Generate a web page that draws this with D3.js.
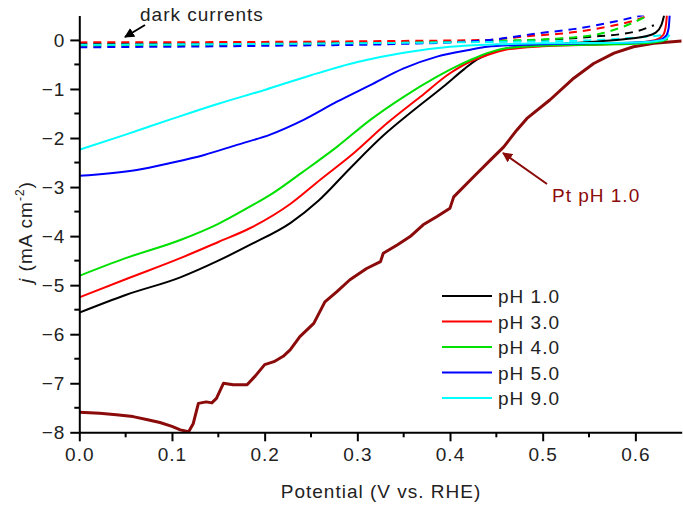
<!DOCTYPE html>
<html>
<head>
<meta charset="utf-8">
<script src="https://cdn.jsdelivr.net/npm/d3@7"></script>
<style>
  body { margin: 0; background: #fff; }
  svg { font-family: "Liberation Sans", Arial, sans-serif; }
  svg text { letter-spacing: 1px; }
  .axis path, .axis line { stroke: #000; }
</style>
</head>
<body>
<svg width="683" height="505"></svg>
<script>
"use strict";

// light current curves, [potential V vs RHE, j mA cm-2]
var ph1 = [[0,-5.56],[0.05,-5.2],[0.109,-4.84],[0.15,-4.5],[0.184,-4.18],[0.228,-3.73],[0.258,-3.28],[0.292,-2.62],[0.328,-1.95],[0.361,-1.43],[0.393,-0.95],[0.415,-0.6],[0.429,-0.4],[0.44,-0.3],[0.46,-0.18],[0.5,-0.11],[0.53,-0.07],[0.56,-0.03],[0.59,0.02],[0.61,0.07],[0.622,0.15],[0.628,0.3],[0.631,0.5]];
var ph3 = [[0,-5.25],[0.05,-4.88],[0.109,-4.45],[0.15,-4.12],[0.184,-3.84],[0.228,-3.34],[0.26,-2.85],[0.296,-2.31],[0.332,-1.7],[0.368,-1.16],[0.4,-0.68],[0.422,-0.44],[0.44,-0.31],[0.46,-0.2],[0.5,-0.13],[0.55,-0.1],[0.6,-0.06],[0.622,0.0],[0.63,0.1],[0.633,0.3],[0.634,0.5]];
var ph4 = [[0,-4.81],[0.05,-4.45],[0.109,-4.08],[0.15,-3.75],[0.184,-3.4],[0.206,-3.16],[0.242,-2.68],[0.278,-2.18],[0.314,-1.63],[0.35,-1.16],[0.386,-0.75],[0.407,-0.54],[0.422,-0.41],[0.44,-0.27],[0.46,-0.17],[0.5,-0.12],[0.55,-0.1],[0.6,-0.08],[0.625,-0.04],[0.635,0.02]];
var ph5 = [[0,-2.77],[0.062,-2.65],[0.098,-2.51],[0.134,-2.35],[0.17,-2.14],[0.206,-1.93],[0.242,-1.63],[0.278,-1.26],[0.314,-0.92],[0.35,-0.58],[0.386,-0.34],[0.422,-0.2],[0.44,-0.14],[0.48,-0.1],[0.55,-0.07],[0.6,-0.05],[0.625,-0.01],[0.633,0.08],[0.636,0.25],[0.637,0.5]];
var ph9 = [[0,-2.24],[0.05,-1.93],[0.1,-1.61],[0.15,-1.3],[0.2,-1.02],[0.25,-0.72],[0.3,-0.45],[0.35,-0.26],[0.4,-0.14],[0.45,-0.09],[0.5,-0.07],[0.6,-0.05],[0.63,0.0],[0.637,0.1]];

// Pt electrode, pH 1.0
var ptPH1 = [[0,-7.59],[0.022,-7.61],[0.04,-7.64],[0.058,-7.68],[0.075,-7.75],[0.087,-7.8],[0.1,-7.88],[0.109,-7.95],[0.118,-7.99],[0.123,-7.82],[0.1285,-7.41],[0.137,-7.38],[0.143,-7.4],[0.148,-7.31],[0.1555,-7.0],[0.166,-7.03],[0.181,-7.03],[0.19,-6.85],[0.2,-6.62],[0.21,-6.56],[0.22,-6.45],[0.2275,-6.32],[0.238,-6.05],[0.253,-5.78],[0.265,-5.34],[0.278,-5.13],[0.292,-4.89],[0.31,-4.66],[0.325,-4.52],[0.328,-4.35],[0.343,-4.18],[0.357,-4.01],[0.371,-3.77],[0.386,-3.6],[0.4,-3.43],[0.404,-3.2],[0.4255,-2.79],[0.4435,-2.45],[0.458,-2.18],[0.472,-1.84],[0.483,-1.6],[0.508,-1.22],[0.5335,-0.78],[0.555,-0.48],[0.577,-0.27],[0.598,-0.14],[0.62,-0.07],[0.65,-0.02]];

// dark currents
var dark1 = [[0,-0.08],[0.2,-0.07],[0.35,-0.05],[0.45,-0.03],[0.5,0.0],[0.55,0.06],[0.6,0.17],[0.62,0.3]];
var dark3 = [[0,-0.05],[0.2,-0.04],[0.35,-0.02],[0.44,0.0],[0.48,0.07],[0.53,0.15],[0.57,0.27],[0.598,0.39],[0.61,0.47]];
var dark4 = [[0,-0.12],[0.2,-0.09],[0.35,-0.06],[0.45,-0.02],[0.533,0.05],[0.565,0.14],[0.587,0.27],[0.612,0.48]];
var dark5 = [[0,-0.15],[0.2,-0.12],[0.35,-0.08],[0.443,0.0],[0.497,0.14],[0.533,0.22],[0.569,0.34],[0.609,0.51]];
var dark9 = [[0,-0.1],[0.2,-0.08],[0.35,-0.06],[0.45,-0.04],[0.55,-0.01],[0.6,0.05],[0.63,0.1],[0.636,0.12]];

var seriesNames = ["pH 1.0", "pH 3.0", "pH 4.0", "pH 5.0", "pH 9.0"];
var seriesColors = ["#000000", "#ff0000", "#00e000", "#0000ff", "#00ffff"];
var lightSeries = [ph1, ph3, ph4, ph5, ph9];
var darkSeries = [dark1, dark3, dark4, dark5, dark9];

var xTicks = [0, 0.1, 0.2, 0.3, 0.4, 0.5, 0.6];
var yTicks = [0, -1, -2, -3, -4, -5, -6, -7, -8];

var fontSize = 19;
var ptColor = "#8b0a0a";

var svg = d3.select("svg");

var x = d3.scaleLinear().domain([0, 0.65]).range([79.3, 681.7]);
var y = d3.scaleLinear().domain([-8, 0.5]).range([432.3, 15.4]);

svg.append("clipPath").attr("id", "plot-clip")
  .append("rect")
  .attr("x", x(0)).attr("y", y(0.5))
  .attr("width", x(0.65) - x(0)).attr("height", y(-8) - y(0.5));

var line = d3.line()
  .x(function (d) { return x(d[0]); })
  .y(function (d) { return y(d[1]); })
  .curve(d3.curveMonotoneX);

var plot = svg.append("g").attr("clip-path", "url(#plot-clip)");

// dashed dark currents
plot.selectAll(".dark").data(darkSeries).enter().append("path")
  .attr("class", "dark")
  .attr("d", line)
  .attr("fill", "none")
  .attr("stroke", function (d, i) { return seriesColors[i]; })
  .attr("stroke-width", 2)
  .attr("stroke-dasharray", "8,6");

plot.append("path")
  .datum(ptPH1)
  .attr("d", line.curve(d3.curveLinear))
  .attr("fill", "none")
  .attr("stroke", ptColor)
  .attr("stroke-width", 3)
  .attr("stroke-linejoin", "round");

line.curve(d3.curveMonotoneX);

plot.selectAll(".light").data(lightSeries).enter().append("path")
  .attr("class", "light")
  .attr("d", line)
  .attr("fill", "none")
  .attr("stroke", function (d, i) { return seriesColors[i]; })
  .attr("stroke-width", 2);

// axes
var xAxis = svg.append("g").attr("class", "axis")
  .attr("transform", "translate(0," + y(-8) + ")")
  .call(d3.axisBottom(x).tickValues(xTicks).tickFormat(d3.format(".1f")).tickSize(9).tickSizeOuter(0).tickPadding(6));
xAxis.selectAll(".minor").data(d3.range(0.05, 0.65, 0.1)).enter().append("line")
  .attr("class", "minor")
  .attr("x1", function (d) { return x(d); }).attr("x2", function (d) { return x(d); })
  .attr("y1", 0).attr("y2", 5).attr("stroke", "#000").attr("stroke-width", 2);

var yAxis = svg.append("g").attr("class", "axis")
  .attr("transform", "translate(" + x(0) + ",0)")
  .call(d3.axisLeft(y).tickValues(yTicks).tickFormat(d3.format("d")).tickSize(9).tickSizeOuter(0).tickPadding(5));
yAxis.selectAll(".minor").data(d3.range(-7.5, 0.5, 1)).enter().append("line")
  .attr("class", "minor")
  .attr("y1", function (d) { return y(d); }).attr("y2", function (d) { return y(d); })
  .attr("x1", 0).attr("x2", -5).attr("stroke", "#000").attr("stroke-width", 2);

svg.selectAll(".axis path, .axis .tick line").attr("stroke-width", 2);
svg.selectAll(".axis text").attr("font-size", fontSize).attr("fill", "#222");

// axis titles
svg.append("text")
  .attr("x", 381).attr("y", 498)
  .attr("text-anchor", "middle")
  .attr("font-size", fontSize).attr("fill", "#222")
  .text("Potential (V vs. RHE)");

var yTitle = svg.append("text")
  .attr("transform", "translate(32,232) rotate(-90)")
  .attr("text-anchor", "middle")
  .attr("font-size", fontSize).attr("fill", "#222");
yTitle.append("tspan").attr("font-style", "italic").text("j");
yTitle.append("tspan").text(" (mA cm");
yTitle.append("tspan").attr("font-size", 12).attr("dy", -8).text("-2");
yTitle.append("tspan").attr("dy", 8).text(")");

// legend
var legend = svg.append("g").selectAll("g").data(seriesNames).enter().append("g")
  .attr("transform", function (d, i) { return "translate(442," + (296 + i * 25.5) + ")"; });
legend.append("line")
  .attr("x1", 0).attr("x2", 50)
  .attr("stroke", function (d, i) { return seriesColors[i]; })
  .attr("stroke-width", 2);
legend.append("text")
  .attr("x", 56).attr("y", 7)
  .attr("font-size", fontSize).attr("fill", "#222")
  .text(function (d) { return d; });

// annotations
var defs = svg.append("defs");
function marker(id, color) {
  defs.append("marker").attr("id", id)
    .attr("viewBox", "0 0 10 10").attr("refX", 9).attr("refY", 5)
    .attr("markerWidth", 5).attr("markerHeight", 5)
    .attr("markerUnits", "strokeWidth")
    .attr("orient", "auto")
    .append("path").attr("d", "M0,0L10,5L0,10z").attr("fill", color);
}
marker("arrow-black", "#000");
marker("arrow-red", ptColor);

svg.append("line")
  .attr("x1", 145).attr("y1", 25).attr("x2", 125).attr("y2", 37)
  .attr("stroke", "#000").attr("stroke-width", 2)
  .attr("marker-end", "url(#arrow-black)");
svg.append("text")
  .attr("x", 140).attr("y", 21)
  .attr("font-size", fontSize).attr("fill", "#222")
  .text("dark currents");

svg.append("line")
  .attr("x1", 547).attr("y1", 184).attr("x2", 503).attr("y2", 153)
  .attr("stroke", ptColor).attr("stroke-width", 2)
  .attr("marker-end", "url(#arrow-red)");
svg.append("text")
  .attr("x", 552).attr("y", 202)
  .attr("font-size", fontSize).attr("fill", ptColor)
  .text("Pt pH 1.0");
</script>
</body>
</html>
